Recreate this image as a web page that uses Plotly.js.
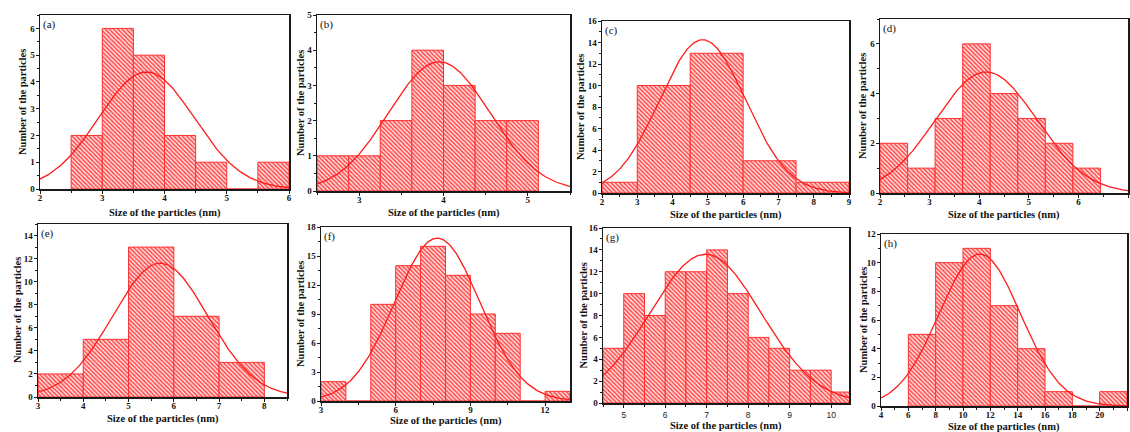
<!DOCTYPE html>
<html><head><meta charset="utf-8">
<script src="https://cdn.plot.ly/plotly-3.0.1.min.js"></script>
<style>html,body{margin:0;padding:0;background:#fff}#chart{width:1130px;height:432px}</style>
</head><body><div id="chart"></div>
<script>
// ---------- data ----------
const panelLabels = ['(a)','(b)','(c)','(d)','(e)','(f)','(g)','(h)'];
const xTitle = 'Size of the particles (nm)';
const yTitle = 'Number of the particles';

// histogram bin edges (nm) and counts
const edgesA = [2.5,3,3.5,4,4.5,5,5.5,6];
const countsA = [2,6,5,2,1,0,1];
const edgesB = [2.5,2.875,3.25,3.625,4.0,4.375,4.75,5.125];
const countsB = [1,1,2,4,3,2,2];
const edgesC = [2,3,4.5,6,7.5,9];
const countsC = [1,10,13,3,1];
const edgesD = [2,2.556,3.111,3.667,4.222,4.778,5.333,5.889,6.444];
const countsD = [2,1,3,6,4,3,2,1];
const edgesE = [3,4,5,6,7,8];
const countsE = [2,5,13,7,3];
const edgesF = [3,4,5,6,7,8,9,10,11,12,13];
const countsF = [2,0,10,14,16,13,9,7,0,1];
const edgesG = [4.5,5,5.5,6,6.5,7,7.5,8,8.5,9,9.5,10,10.5];
const countsG = [5,10,8,12,12,14,10,6,5,3,3,1];
const edgesH = [6,8,10,12,14,16,18,20,22];
const countsH = [5,10,11,7,4,1,0,1];

// Gaussian fit parameters (center, sigma, peak height)
const fitCenter = [3.71,3.95,4.85,4.14,5.70,7.67,6.97,11.23];
const fitSigma  = [0.77,0.60,1.22,1.02,1.05,1.71,1.34,2.98];
const fitPeak   = [4.37,3.67,14.25,4.87,11.6,16.85,13.6,10.6];

// axis ranges and tick steps
const xRanges = [[2,6],[2.5,5.5],[2,9],[2,7],[3,8.5],[3,13],[4.5,10.43],[4,22]];
const yRanges = [[0,6.5],[0,5],[0,16],[0,7],[0,15],[0,18],[0,16],[0,12]];
const xSteps = [1,1,1,1,1,3,1,2];
const ySteps = [1,1,2,2,2,3,2,2];

const allEdges = [edgesA,edgesB,edgesC,edgesD,edgesE,edgesF,edgesG,edgesH];
const allCounts = [countsA,countsB,countsC,countsD,countsE,countsF,countsG,countsH];

// ---------- layout ----------
const W = 1130, H = 432;
// panel boxes in px: left, top, right, bottom
const boxes = [
  [40,15,289,189],[317,15,570,191],[602,21,849,193],[880,19,1128,193],
  [38,224,287,397],[321,227,570,401],[603,228,849,403],[881,234,1127,406]
];
// axis-title centres in px: x-title y position, y-title x position
const xTitleY = [212.5,213,215,215,419,421,426,426.5];
const yTitleX = [22,300,581,863,17.5,300,583,863];

const serif = 'Liberation Serif, Times New Roman, serif';
const traces = [];
const layout = {
  width: W, height: H,
  margin: {l:0,r:0,t:0,b:0},
  paper_bgcolor: '#ffffff', plot_bgcolor: '#ffffff',
  showlegend: false,
  annotations: []
};
const titleFont = {family: serif, size: 10.5, color: '#111', weight: 700};

for (let i = 0; i < 8; i++) {
  const n = i === 0 ? '' : String(i+1);
  const xa = 'x' + n, ya = 'y' + n;
  const edges = allEdges[i], counts = allCounts[i];
  const centers = [], widths = [];
  for (let k = 0; k < counts.length; k++) {
    centers.push((edges[k] + edges[k+1]) / 2);
    widths.push(edges[k+1] - edges[k]);
  }
  traces.push({
    type: 'bar', x: centers, y: counts, width: widths,
    xaxis: xa, yaxis: ya, hoverinfo: 'skip',
    marker: {
      color: '#ff4444',
      pattern: {shape: '\\', fgcolor: '#ff4444', bgcolor: '#ffe2e2', size: 3, solidity: 0.48},
      line: {color: '#ff3030', width: 1}
    }
  });
  // fitted normal curve
  const [x0, x1] = xRanges[i];
  const gx = [], gy = [];
  const N = 200;
  for (let k = 0; k <= N; k++) {
    const x = x0 + (x1 - x0) * k / N;
    gx.push(x);
    gy.push(fitPeak[i] * Math.exp(-Math.pow(x - fitCenter[i], 2) / (2 * fitSigma[i] * fitSigma[i])));
  }
  traces.push({
    type: 'scatter', mode: 'lines', x: gx, y: gy, xaxis: xa, yaxis: ya,
    line: {color: '#ff1a1a', width: 1.3}, hoverinfo: 'skip'
  });

  const b = boxes[i];
  const tickFont = {family: serif, size: 9, color: '#111', weight: 700};
  const gTickFont = {family: 'Liberation Sans, Arial, sans-serif', size: 8.5, color: '#222', weight: 400};
  layout['xaxis' + n] = {
    domain: [b[0] / W, b[2] / W], anchor: ya,
    range: xRanges[i], tick0: 0, dtick: xSteps[i],
    showgrid: false, zeroline: false,
    showline: true, mirror: true, linecolor: '#1a1a1a', linewidth: 1.5,
    ticks: 'outside', ticklen: 3, tickwidth: 1, tickcolor: '#1a1a1a',
    minor: {ticks: 'outside', ticklen: 2, dtick: xSteps[i] / 2, tickcolor: '#1a1a1a', showgrid: false},
    tickfont: i === 6 ? gTickFont : tickFont,
    ticklabelstandoff: i === 6 ? 0 : -3,
    automargin: false
  };
  layout['yaxis' + n] = {
    domain: [1 - b[3] / H, 1 - b[1] / H], anchor: xa,
    range: yRanges[i], tick0: 0, dtick: ySteps[i],
    showgrid: false, zeroline: false,
    showline: true, mirror: true, linecolor: '#1a1a1a', linewidth: 1.5,
    ticks: 'outside', ticklen: 3, tickwidth: 1, tickcolor: '#1a1a1a',
    minor: {ticks: 'outside', ticklen: 2, dtick: ySteps[i] / 2, tickcolor: '#1a1a1a', showgrid: false},
    tickfont: tickFont,
    ticklabelstandoff: -1,
    automargin: false
  };
  // panel label
  layout.annotations.push({
    text: panelLabels[i], xref: xa + ' domain', yref: ya + ' domain',
    x: 0.003, y: 0.995, xanchor: 'left', yanchor: 'top', showarrow: false,
    font: {family: serif, size: 11, color: '#111'}
  });
  // x-axis title
  layout.annotations.push({
    text: xTitle, xref: 'paper', yref: 'paper',
    x: (b[0] + b[2]) / 2 / W, y: 1 - xTitleY[i] / H,
    xanchor: 'center', yanchor: 'middle', showarrow: false, font: titleFont
  });
  // y-axis title
  layout.annotations.push({
    text: yTitle, xref: 'paper', yref: 'paper', textangle: -90,
    x: yTitleX[i] / W, y: 1 - (b[1] + b[3]) / 2 / H,
    xanchor: 'center', yanchor: 'middle', showarrow: false, font: titleFont
  });
}

Plotly.newPlot('chart', traces, layout, {staticPlot: true, displayModeBar: false});
</script>
</body></html>
